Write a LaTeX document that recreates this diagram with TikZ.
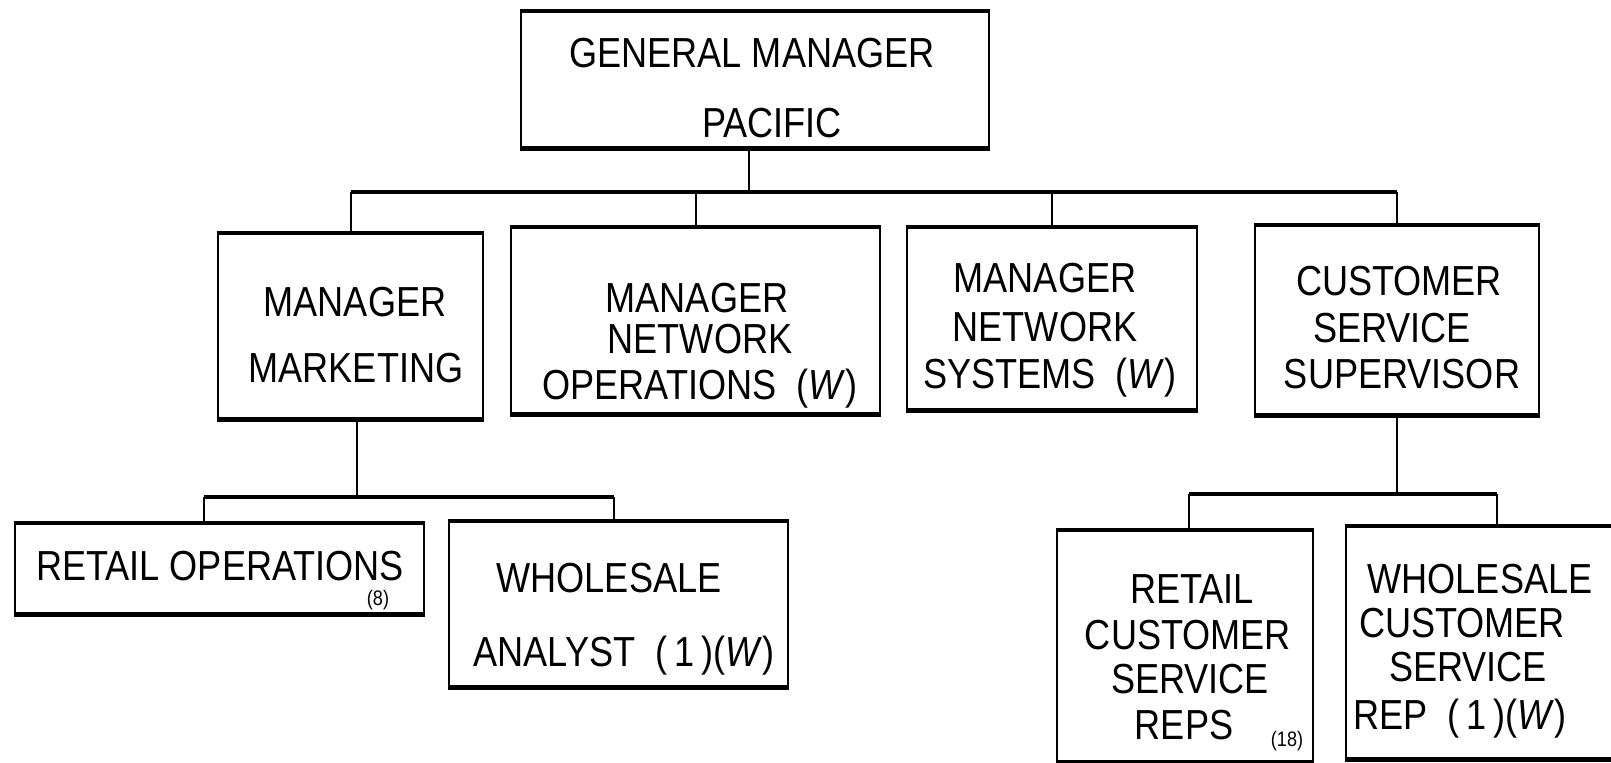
\documentclass[tikz,border=0pt]{standalone}
\usepackage{fontspec}
\setmainfont[FakeStretch=0.86]{Liberation Sans}
\begin{document}
\begin{tikzpicture}[x=0.5pt,y=-0.5pt,
  box/.style={draw, line width=1.3pt, inner sep=0pt},
  lbl/.style={anchor=base, inner sep=0pt, font=\fontsize{21}{25}\selectfont},
  tag/.style={anchor=base, inner sep=0pt, font=\fontsize{10.5}{12}\selectfont},
  stem/.style={line width=1pt},
  busline/.style={line width=1.8pt},
  edge/.style={line width=2.2pt}]
\useasboundingbox (0,0) rectangle (1611,762);
\clip (0,0) rectangle (1611,762);

% boxes
\node[box, minimum width=234pt, minimum height=67.5pt] (gm) at (755,79.5) {};
\node[box, minimum width=132.5pt, minimum height=92pt] (mkt) at (350.5,326) {};
\node[box, minimum width=184.5pt, minimum height=92.5pt] (netops) at (695.5,320.5) {};
\node[box, minimum width=145pt, minimum height=90.5pt] (netsys) at (1052,318.5) {};
\node[box, minimum width=142pt, minimum height=94pt] (css) at (1397,320) {};
\node[box, minimum width=204.5pt, minimum height=44.5pt] (ro) at (219.5,568.5) {};
\node[box, minimum width=169.5pt, minimum height=82pt] (wa) at (618.5,604) {};
\node[box, minimum width=128pt, minimum height=115pt] (rcsr) at (1185,646) {};
\node[box, minimum width=134.5pt, minimum height=115.5pt] (wcsr) at (1480.5,642.5) {};

% heavier top and bottom rules
\foreach \b in {gm,mkt,netops,netsys,css,ro,wa,rcsr,wcsr} {
  \draw[edge] (\b.north west) -- (\b.north east);
  \draw[edge] (\b.south west) -- (\b.south east);
}

% labels
\node[lbl] (gm1) at (752,67) {GENERAL MANAGER};
\node[lbl] (gm2) at (772,137) {PACIFIC};

\node[lbl] (mkt1) at (355,316) {MANAGER};
\node[lbl] (mkt2) at (356,382) {MARKETING};

\node[lbl] (no1) at (697,312) {MANAGER};
\node[lbl] (no2) at (700,353) {NETWORK};
\node[lbl] (no3) at (700,399) {OPERATIONS\ \ (\textit{W})};

\node[lbl] (ns1) at (1045,292) {MANAGER};
\node[lbl] (ns2) at (1045,341) {NETWORK};
\node[lbl] (ns3) at (1050,388) {SYSTEMS\ \ (\textit{W})};

\node[lbl] (cs1) at (1399,295) {CUSTOMER};
\node[lbl] (cs2) at (1392,342) {SERVICE};
\node[lbl] (cs3) at (1402,388) {SUPERVISOR};

\node[lbl] (ro1) at (220,580) {RETAIL OPERATIONS};
\node[tag] (ro2) at (378,605) {(8)};

\node[lbl] (wa1) at (609,592) {WHOLESALE};
\node[lbl] (wa2) at (624,666) {ANALYST\ \ (\,1\,)(\textit{W})};

\node[lbl] (rc1) at (1192,603) {RETAIL};
\node[lbl] (rc2) at (1188,649) {CUSTOMER};
\node[lbl] (rc3) at (1190,693) {SERVICE};
\node[lbl] (rc4) at (1184,739) {REPS};
\node[tag] (rc5) at (1287,746) {(18)};

\node[lbl] (wc1) at (1480,593) {WHOLESALE};
\node[lbl] (wc2) at (1462,637) {CUSTOMER};
\node[lbl] (wc3) at (1468,681) {SERVICE};
\node[lbl] (wc4) at (1460,729) {REP\ \ (\,1\,)(\textit{W})};

% connectors: general manager to the four managers
\coordinate (bus) at (0,192);
\draw[stem] ([xshift=-3pt]gm.south) -- ([xshift=-3pt]gm.south |- bus);
\draw[busline] (mkt.north |- bus) -- (css.north |- bus);
\foreach \b in {mkt,netops,netsys,css}
  \draw[stem] (\b.north |- bus) -- (\b.north);

% marketing to its two units
\coordinate (mb) at (357,497);
\coordinate (mb1) at (204,497);
\coordinate (mb2) at (614,497);
\draw[stem] (mkt.south -| mb) -- (mb);
\draw[busline] (mb1) -- (mb2);
\draw[stem] (mb1) -- (mb1 |- ro.north);
\draw[stem] (mb2) -- (mb2 |- wa.north);

% customer service supervisor to the reps
\coordinate (cb1) at (1189,494);
\coordinate (cb2) at (1497,494);
\draw[stem] (css.south) -- (css.south |- cb1);
\draw[busline] (cb1) -- (cb2);
\draw[stem] (cb1) -- (cb1 |- rcsr.north);
\draw[stem] (cb2) -- (cb2 |- wcsr.north);
\end{tikzpicture}
\end{document}
